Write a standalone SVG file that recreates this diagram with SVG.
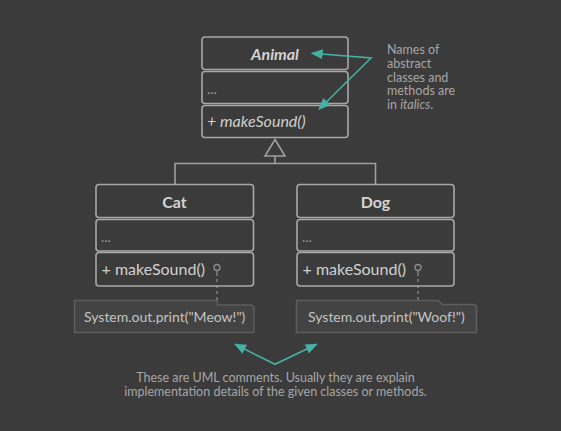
<svg xmlns="http://www.w3.org/2000/svg" width="561" height="431" viewBox="0 0 561 431">
  <defs>
    <marker id="ah" viewBox="0 0 12 10" refX="11" refY="5" markerWidth="12" markerHeight="10" markerUnits="userSpaceOnUse" orient="auto-start-reverse">
      <path d="M0,0 L12,5 L0,10 Z" fill="#45b0a6"/>
    </marker>
    <style>
      .box{fill:none;stroke:#a8a8a8;stroke-width:1.6}
      .conn{fill:none;stroke:#a0a0a0;stroke-width:1.6}
      .title{font-family:Lato,"Liberation Sans",sans-serif;font-size:16px;font-weight:bold;fill:#d4d4d4;text-anchor:middle}
      .member{font-family:Lato,"Liberation Sans",sans-serif;font-size:16px;fill:#d0d0d0}
      .dots{font-family:Lato,"Liberation Sans",sans-serif;font-size:14px;fill:#9a9a9a}
      .note{fill:#434343;stroke:#5e5e5e;stroke-width:1.5}
      .notetext{font-family:Lato,"Liberation Sans",sans-serif;font-size:14px;fill:#c4c4c4}
      .pin{fill:none;stroke:#8a8a8a;stroke-width:1.3}
      .dash{fill:none;stroke:#8a8a8a;stroke-width:1.3;stroke-dasharray:3 3}
      .teal{fill:none;stroke:#45b0a6;stroke-width:1.6}
      .caption{font-family:Lato,"Liberation Sans",sans-serif;font-size:12.5px;fill:#a6a6a6}
    </style>
  </defs>
  <rect width="561" height="431" fill="#3b3b3b"/>

  <g id="connectors">
    <path class="conn" d="M275,139.5 L285,156 L265,156 Z"/>
    <path class="conn" d="M275,156 V163.5 M175,184.5 V163.5 H375.5 V184.5"/>
    <path class="dash" d="M217,273 V300.5"/>
    <path class="dash" d="M418,273 V300.5"/>
  </g>

  <g id="animal">
    <rect class="box" x="202" y="37" width="146" height="32.5" rx="3"/>
    <rect class="box" x="202" y="71.5" width="146" height="32" rx="3"/>
    <rect class="box" x="202" y="105.5" width="146" height="32" rx="3"/>
    <text class="title" x="275" y="60" font-style="italic">Animal</text>
    <text class="dots" x="207" y="94">...</text>
    <text class="member" x="207" y="127" font-style="italic">+ makeSound()</text>
  </g>

  <g id="cat">
    <rect class="box" x="96" y="184.5" width="157.5" height="33" rx="3"/>
    <rect class="box" x="96" y="219.5" width="157.5" height="31.5" rx="3"/>
    <rect class="box" x="96" y="252.5" width="157.5" height="33.5" rx="3"/>
    <text class="title" x="174.5" y="208">Cat</text>
    <text class="dots" x="101" y="241.5">...</text>
    <text class="member" x="101.5" y="274.5">+ makeSound()</text>
    <circle class="pin" cx="217" cy="267.5" r="3"/>
    <path class="pin" d="M217,270.5 V273"/>
  </g>

  <g id="dog">
    <rect class="box" x="297" y="184.5" width="157" height="33" rx="3"/>
    <rect class="box" x="297" y="219.5" width="157" height="31.5" rx="3"/>
    <rect class="box" x="297" y="252.5" width="157" height="33.5" rx="3"/>
    <text class="title" x="375.5" y="208">Dog</text>
    <text class="dots" x="302" y="241.5">...</text>
    <text class="member" x="302.5" y="274.5">+ makeSound()</text>
    <circle class="pin" cx="418" cy="267.5" r="3"/>
    <path class="pin" d="M418,270.5 V273"/>
  </g>

  <g id="note-cat">
    <path class="note" d="M74.5,300.5 H217.5 V305 H250 Q254,305 254,309 V332.5 H74.5 Z"/>
    <text class="notetext" x="84" y="321.5">System.out.print("Meow!")</text>
  </g>

  <g id="note-dog">
    <path class="note" d="M296.5,300.5 H438.5 L442,304.5 H473 Q476.5,304.5 476.5,308 V332.5 H296.5 Z"/>
    <text class="notetext" x="308" y="321.5">System.out.print("Woof!")</text>
  </g>

  <g id="abstract-comment">
    <polyline class="teal" points="311.7,53.3 371,58 319,109.3" marker-start="url(#ah)" marker-end="url(#ah)"/>
    <text class="caption" x="387" y="54.3">Names of</text>
    <text class="caption" x="387" y="68">abstract</text>
    <text class="caption" x="387" y="81.7">classes and</text>
    <text class="caption" x="387" y="95.4">methods are</text>
    <text class="caption" x="387" y="109">in <tspan font-style="italic">italics</tspan>.</text>
  </g>

  <g id="uml-comment">
    <polyline class="teal" points="235,344.3 275,364.3 316.7,344.3" marker-start="url(#ah)" marker-end="url(#ah)"/>
    <text class="caption" x="275.5" y="381.7" text-anchor="middle">These are UML comments. Usually they are explain</text>
    <text class="caption" x="275.5" y="396" text-anchor="middle">implementation details of the given classes or methods.</text>
  </g>
</svg>
